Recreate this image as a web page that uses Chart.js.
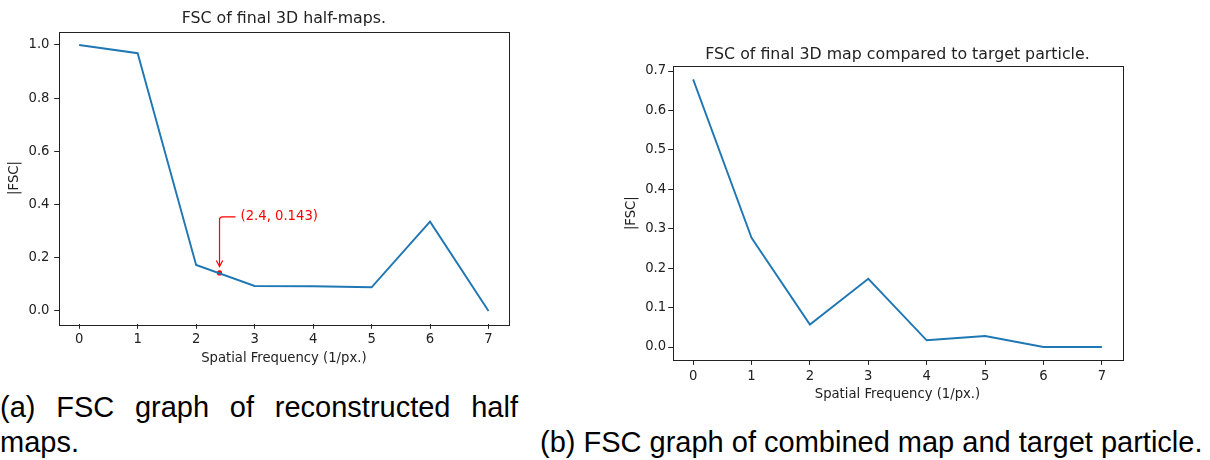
<!DOCTYPE html>
<html>
<head>
<meta charset="utf-8">
<script src="https://cdn.jsdelivr.net/npm/chart.js@4/dist/chart.umd.min.js"></script>
<style>
body{margin:0;background:#fff;width:1210px;height:460px;overflow:hidden;position:relative}
.box{position:absolute}
.cap{position:absolute;font-family:"Liberation Sans",Arial,sans-serif;font-size:29px;line-height:35px;color:#000}
</style>
</head>
<body>
<div class="box" style="left:0;top:0;width:530px;height:380px"><canvas id="fscA" width="530" height="380"></canvas></div>
<div class="box" style="left:600px;top:30px;width:600px;height:380px"><canvas id="fscB" width="600" height="380"></canvas></div>
<div class="cap" style="left:0;top:390px;width:518px;text-align:justify">(a) FSC graph of reconstructed half maps.</div>
<div class="cap" style="left:540px;top:425px;white-space:nowrap">(b) FSC graph of combined map and target particle.</div>
<script>
// data
const freqs = [0, 1, 2, 3, 4, 5, 6, 7]
const halfMapFsc = [1.0, 0.969, 0.173, 0.094, 0.093, 0.089, 0.336, 0.0]
const targetFsc = [0.679, 0.277, 0.057, 0.173, 0.017, 0.028, 0.0, 0.0]
const xTicks = [0, 1, 2, 3, 4, 5, 6, 7]
const yTicksA = [0.0, 0.2, 0.4, 0.6, 0.8, 1.0]
const yTicksB = [0.0, 0.1, 0.2, 0.3, 0.4, 0.5, 0.6, 0.7]
const cutoffX = [2.4]
const cutoffY = [0.143]
const cutoffLabel = "(2.4, 0.143)"

const BLUE = "#1f77b4"
const INK = "#222"
const FONT = "'DejaVu Sans', sans-serif"

// matplotlib style 5% margins
function pad(arr){
  const lo = Math.min(...arr), hi = Math.max(...arr), m = (hi - lo) * 0.05
  return [lo - m, hi + m]
}

const frame = {
  id: "frame",
  afterDraw(chart){
    const a = chart.chartArea, ctx = chart.ctx
    ctx.save()
    ctx.strokeStyle = INK
    ctx.lineWidth = 1
    ctx.strokeRect(Math.round(a.left) + 0.5, Math.round(a.top) + 0.5, Math.round(a.right - a.left), Math.round(a.bottom - a.top))
    ctx.restore()
  }
}

const annotate = {
  id: "annotate",
  afterDatasetsDraw(chart, args, opts){
    if(!opts.text) return
    const ctx = chart.ctx, x = chart.scales.x, y = chart.scales.y
    const px = x.getPixelForValue(opts.x), py = y.getPixelForValue(opts.y)
    const ty = py - 56
    ctx.save()
    ctx.strokeStyle = "red"
    ctx.lineWidth = 1.2
    ctx.beginPath()
    ctx.moveTo(px + 16, ty)
    ctx.arcTo(px, ty, px, ty + 4, 3)
    ctx.lineTo(px, py - 6.5)
    ctx.stroke()
    ctx.beginPath()
    ctx.moveTo(px - 3.2, py - 12.5)
    ctx.lineTo(px, py - 6.5)
    ctx.lineTo(px + 3.2, py - 12.5)
    ctx.stroke()
    ctx.fillStyle = "red"
    ctx.font = "13.2px " + FONT
    ctx.textBaseline = "middle"
    ctx.fillText(opts.text, px + 21, ty)
    ctx.restore()
  }
}

function makeChart(id, vals, yTicks, cfg){
  const xr = pad(freqs), yr = pad(vals)
  const datasets = [{
    data: freqs.map((f, i) => ({x: f, y: vals[i]})),
    borderColor: BLUE, borderWidth: 1.9, pointRadius: 0, tension: 0, fill: false
  }]
  if(cfg.mark){
    datasets.push({
      data: cutoffX.map((f, i) => ({x: f, y: cutoffY[i]})),
      showLine: false, pointRadius: 2.6, pointBackgroundColor: "red", pointBorderWidth: 0
    })
  }
  return new Chart(document.getElementById(id), {
    type: "line",
    data: {datasets: datasets},
    options: {
      responsive: false,
      animation: false,
      devicePixelRatio: 1,
      layout: {padding: {top: 0, right: cfg.right, bottom: 0, left: 0}},
      plugins: {
        legend: {display: false},
        tooltip: {enabled: false},
        title: {
          display: true, text: cfg.title, color: INK, fullSize: false,
          font: {family: FONT, size: 15.8, weight: "normal"},
          padding: {top: cfg.titleTop, bottom: cfg.titleBottom}
        },
        annotate: cfg.mark ? {x: cutoffX[0], y: cutoffY[0], text: cutoffLabel} : {}
      },
      scales: {
        x: {
          type: "linear", min: xr[0], max: xr[1],
          afterBuildTicks: s => { s.ticks = xTicks.map(v => ({value: v})) },
          afterFit: s => { s.height = cfg.xH },
          border: {display: false},
          grid: {drawOnChartArea: false, tickLength: 4.5, color: INK, tickColor: INK},
          ticks: {color: INK, padding: cfg.xPad, font: {family: FONT, size: 13.2}, callback: v => String(v)},
          title: {display: true, text: "Spatial Frequency (1/px.)", color: INK,
            font: {family: FONT, size: 13.2}, padding: {top: 0, bottom: cfg.xTitlePad}}
        },
        y: {
          min: yr[0], max: yr[1],
          afterBuildTicks: s => { s.ticks = yTicks.map(v => ({value: v})) },
          afterFit: s => { s.width = cfg.yW },
          border: {display: false},
          grid: {drawOnChartArea: false, tickLength: 4.5, color: INK, tickColor: INK},
          ticks: {color: INK, padding: cfg.yPad, font: {family: FONT, size: 13.2}, callback: v => v.toFixed(1)},
          title: {display: true, text: "|FSC|", color: INK,
            font: {family: FONT, size: 13.2}, padding: {top: cfg.yTitlePad, bottom: 0}}
        }
      }
    },
    plugins: [frame, annotate]
  })
}

makeChart("fscA", halfMapFsc, yTicksA, {
  title: "FSC of final 3D half-maps.", mark: true,
  right: 21, titleTop: 9.5, titleBottom: 3.2,
  xH: 55.7, xPad: 3.3, xTitlePad: 13.1,
  yW: 58.7, yPad: 4.7, yTitlePad: 7.1
})

makeChart("fscB", targetFsc, yTicksB, {
  title: "FSC of final 3D map compared to target particle.", mark: false,
  right: 77.7, titleTop: 15.2, titleBottom: 1.8,
  xH: 49.6, xPad: 3.9, xTitlePad: 7.1,
  yW: 72.7, yPad: 2, yTitlePad: 23.8
})
</script>
</body>
</html>
